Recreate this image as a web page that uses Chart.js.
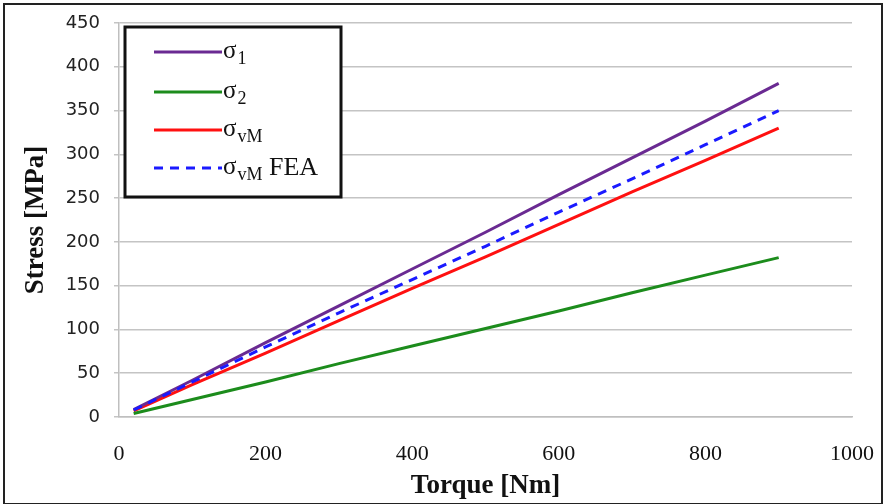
<!DOCTYPE html>
<html>
<head>
<meta charset="utf-8">
<script src="https://cdn.jsdelivr.net/npm/chart.js@4/dist/chart.umd.min.js"></script>
<style>
  html, body { margin: 0; padding: 0; background: #fff; }
  #wrap { width: 885px; height: 504px; position: relative; }
</style>
</head>
<body>
<div id="wrap"><canvas id="c" width="885" height="504"></canvas></div>
<script>
// ---- data ----
const torque = [20, 100, 200, 300, 400, 500, 600, 700, 800, 900];
const sigma1 = [8.5, 42, 85, 127, 169, 211, 254, 296, 338, 381];
const sigma2 = [4, 20, 40, 61, 81, 101, 121, 142, 162, 182];
const sigmaVM = [7, 37, 73, 110, 147, 183, 220, 257, 293, 330];
const sigmaVMFEA = [8, 40, 80, 119, 157, 195, 234, 272, 311, 350];

const seriesLabels = ['σ1', 'σ2', 'σvM', 'σvM FEA'];
const labelMain = ['σ', 'σ', 'σ', 'σ'];
const labelSub = ['1', '2', 'vM', 'vM'];
const labelSuffix = ['', '', '', ' FEA'];
const yTicks = [0, 50, 100, 150, 200, 250, 300, 350, 400, 450];
const xTicks = [0, 200, 400, 600, 800, 1000];

const colors = ['#6a2a92', '#1c8c1c', '#ff1010', '#1a1aff'];
const dashes = [[], [], [], [9, 7]];
const values = [sigma1, sigma2, sigmaVM, sigmaVMFEA];

const datasets = values.map((v, i) => ({
  label: seriesLabels[i],
  data: torque.map((t, j) => ({ x: t, y: v[j] })),
  borderColor: colors[i],
  backgroundColor: colors[i],
  borderWidth: 3,
  borderDash: dashes[i],
  pointRadius: 0,
  fill: false,
  tension: 0,
  order: i === 3 ? 0 : 1
}));

const SERIF = '"Liberation Serif", "Times New Roman", serif';

const legendPlugin = {
  id: 'boxLegend',
  afterDraw(chart) {
    const ctx = chart.ctx;
    ctx.save();
    // outer frame of the figure
    ctx.strokeStyle = '#222';
    ctx.lineWidth = 2;
    ctx.strokeRect(4, 4, 878, 500);
    // legend box
    const bx = 125, by = 27, bw = 216, bh = 170;
    ctx.fillStyle = '#fff';
    ctx.fillRect(bx, by, bw, bh);
    ctx.strokeStyle = '#111';
    ctx.lineWidth = 3;
    ctx.strokeRect(bx, by, bw, bh);
    const rows = [52, 92, 130, 168];
    chart.data.datasets.forEach((ds, i) => {
      const y = rows[i];
      ctx.strokeStyle = ds.borderColor;
      ctx.lineWidth = 3;
      ctx.setLineDash(ds.borderDash || []);
      ctx.beginPath();
      ctx.moveTo(154, y);
      ctx.lineTo(222, y);
      ctx.stroke();
      ctx.setLineDash([]);
      ctx.fillStyle = '#111';
      ctx.textBaseline = 'alphabetic';
      ctx.textAlign = 'left';
      let x = 223;
      ctx.font = '25px ' + SERIF;
      ctx.fillText(labelMain[i], x, y + 6);
      x += ctx.measureText(labelMain[i]).width;
      ctx.font = '18px ' + SERIF;
      ctx.fillText(labelSub[i], x + 1, y + 12);
      x += ctx.measureText(labelSub[i]).width + 1;
      if (labelSuffix[i]) {
        ctx.font = '26px ' + SERIF;
        ctx.fillText(labelSuffix[i], x, y + 7);
      }
    });
    ctx.restore();
  }
};

new Chart(document.getElementById('c'), {
  type: 'line',
  data: { datasets },
  plugins: [legendPlugin],
  options: {
    responsive: false,
    animation: false,
    layout: { padding: { left: 0, right: 33, top: 23, bottom: 0 } },
    plugins: { legend: { display: false }, tooltip: { enabled: false } },
    scales: {
      x: {
        type: 'linear',
        min: 0, max: 1000,
        afterBuildTicks: s => { s.ticks = xTicks.map(v => ({ value: v })); },
        afterFit: s => { s.height = 87; s.paddingLeft = 0; s.paddingRight = 0; },
        grid: { display: false, drawTicks: false },
        border: { display: true, color: '#bfbfbf', width: 1.5 },
        ticks: {
          padding: 24,
          color: '#111',
          maxRotation: 0,
          callback: v => String(v),
          font: { family: SERIF, size: 22 }
        },
        title: {
          display: true,
          text: 'Torque [Nm]',
          color: '#111',
          padding: { top: 0, bottom: 2 },
          font: { family: SERIF, size: 27, weight: 'bold' }
        }
      },
      y: {
        type: 'linear',
        min: 0, max: 450,
        afterBuildTicks: s => { s.ticks = yTicks.map(v => ({ value: v })); },
        afterFit: s => { s.width = 119; s.paddingTop = 0; s.paddingBottom = 0; },
        grid: { color: '#c4c4c4', lineWidth: 1.5, tickLength: 5, drawTicks: true },
        border: { display: true, color: '#bfbfbf', width: 1.5 },
        ticks: {
          padding: 14,
          color: '#222',
          callback: v => String(v),
          font: { family: '"DejaVu Sans", Verdana, sans-serif', size: 18 }
        },
        title: {
          display: true,
          text: 'Stress [MPa]',
          color: '#111',
          padding: { top: 20, bottom: 0 },
          font: { family: SERIF, size: 27, weight: 'bold' }
        }
      }
    }
  }
});
</script>
</body>
</html>
